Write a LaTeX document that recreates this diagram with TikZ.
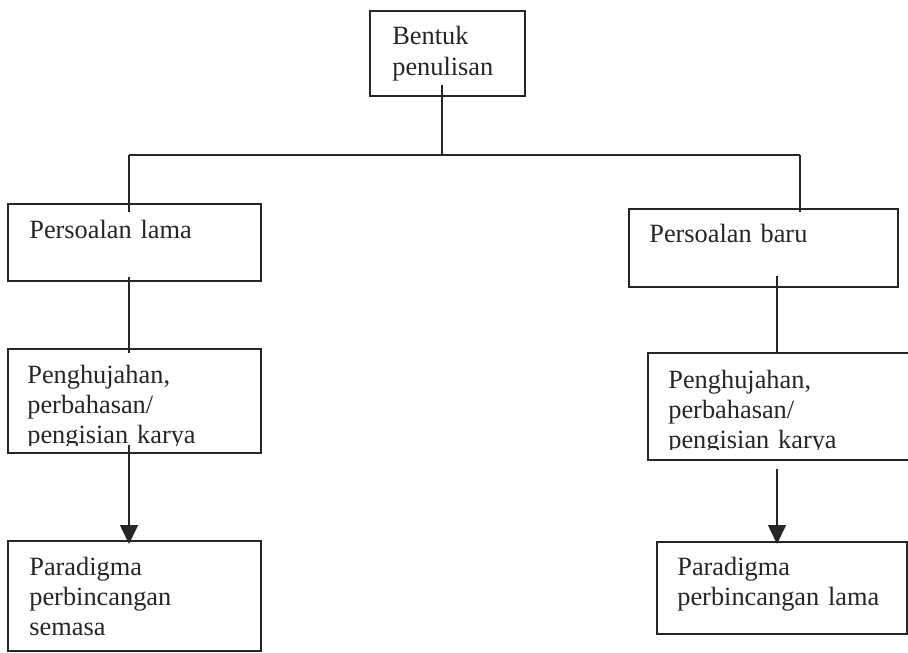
\documentclass[tikz,border=0pt]{standalone}
\usepackage{fontspec}
\setmainfont{Liberation Serif}
\usetikzlibrary{positioning,calc,arrows.meta}

\begin{document}
\begin{tikzpicture}[x=0.02cm, y=-0.02cm, draw=black!85,
box/.style={draw,rectangle,line width=0.9pt,anchor=north west,inner sep=0pt},
txt/.style={anchor=base west,align=left,inner sep=0pt,text width=5cm,
  text=black!85,font=\fontsize{15}{17.1}\selectfont},
link/.style={line width=0.9pt},
arrow/.style={link,-{Triangle[width=0.36cm,length=0.38cm]}}]

\clip (0,0) rectangle (908,652);

% boxes
\foreach \n/\x/\y/\w/\h in {bp/369/10/3.10/1.70,
  lama1/7/203/5.06/1.54, lama2/7/348/5.06/2.08, lama3/7/540/5.06/2.20,
  baru1/628/208/5.38/1.56, baru2/647/352/5.36/2.14, baru3/656/541/5.00/1.84}
  \node[box,minimum width=\w cm,minimum height=\h cm] (\n) at (\x,\y) {};

% texts
\node[txt] (t-bp) at ($(bp.north west)+(23,35)$) {Bentuk\\ penulisan};
\node[txt] (t-lama1) at ($(lama1.north west)+(22,35)$) {Persoalan lama};
\node[txt] (t-lama3) at ($(lama3.north west)+(22,35)$) {Paradigma\\ perbincangan\\ semasa};
\node[txt] (t-baru1) at ($(baru1.north west)+(21,34)$) {Persoalan baru};
\node[txt] (t-baru3) at ($(baru3.north west)+(21,34)$) {Paradigma\\ perbincangan lama};

% clipped at the bottom of the box
\begin{scope}
\clip (lama2.north west) rectangle ($(lama2.south east)+(0,-8.5)$);
\node[txt] (t-lama2) at ($(lama2.north west)+(20,35)$) {Penghujahan,\\ perbahasan/\\ pengisian karya};
\end{scope}
\begin{scope}
\clip (baru2.north west) rectangle ($(baru2.south east)+(0,-11.5)$);
\node[txt] (t-baru2) at ($(baru2.north west)+(21,36)$) {Penghujahan,\\ perbahasan/\\ pengisian karya};
\end{scope}

% junctions
\coordinate (jl) at (129,155);
\coordinate (jm) at (442,155);
\coordinate (jr) at (800,155);
\coordinate (rx) at (777,320);

\draw[link] ($(bp.south -| jm)+(0,-12)$) -- (jm);
\draw[link] (jl) -- (jr);
\draw[link] (jl) -- ($(lama1.north -| jl)+(0,9)$);
\draw[link] (jr) -- ($(baru1.north -| jr)+(0,4)$);

% left column
\draw[link] ($(lama1.south -| jl)+(0,-5)$) -- ($(lama2.north -| jl)+(0,5)$);
\draw[arrow] ($(lama2.south -| jl)+(0,-9)$) -- ($(lama3.north -| jl)+(0,4)$);

% right column
\draw[link] ($(baru1.south -| rx)+(0,-12)$) -- (baru2.north -| rx);
\draw[arrow] ($(baru2.south -| rx)+(0,8)$) -- ($(baru3.north -| rx)+(0,3)$);
\end{tikzpicture}
\end{document}
